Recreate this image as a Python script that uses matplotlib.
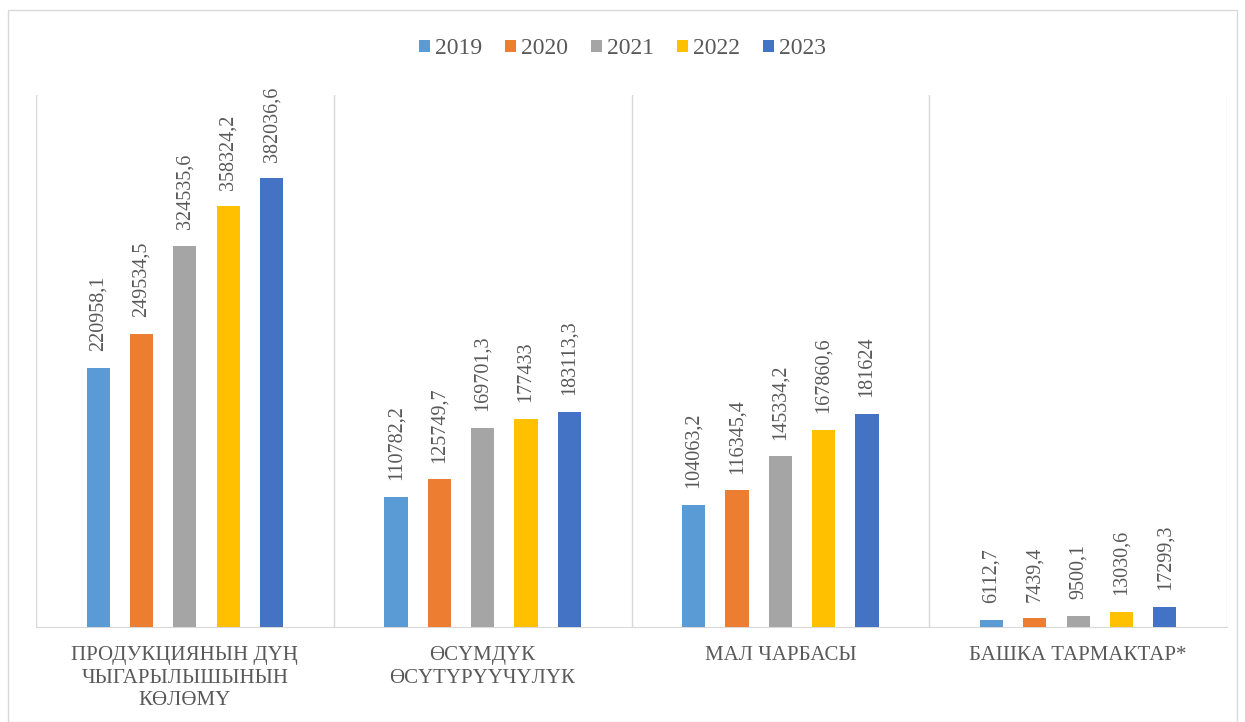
import numpy as np
import matplotlib.pyplot as plt
from matplotlib.patches import Rectangle

categories = [
    "ПРОДУКЦИЯНЫН ДҮҢ\nЧЫГАРЫЛЫШЫНЫН\nКӨЛӨМҮ",
    "ӨСҮМДҮК\nӨСҮТҮРҮҮЧҮЛҮК",
    "МАЛ ЧАРБАСЫ",
    "БАШКА ТАРМАКТАР*",
]
years = ["2019", "2020", "2021", "2022", "2023"]
v2019 = [220958.1, 110782.2, 104063.2, 6112.7]
v2020 = [249534.5, 125749.7, 116345.4, 7439.4]
v2021 = [324535.6, 169701.3, 145334.2, 9500.1]
v2022 = [358324.2, 177433, 167860.6, 13030.6]
v2023 = [382036.6, 183113.3, 181624, 17299.3]
series = [v2019, v2020, v2021, v2022, v2023]
colors = ["#5b9bd5", "#ed7d31", "#a5a5a5", "#ffc000", "#4472c4"]

plt.rcParams["font.family"] = ["Liberation Serif", "DejaVu Serif"]
text_col = "#595959"
grid_col = "#d9d9d9"


def fmt(v):
    s = f"{v:.1f}".rstrip("0").rstrip(".")
    return s.replace(".", ",")


fig = plt.figure(figsize=(12.45, 7.22), dpi=100)
fig.patches.append(Rectangle((8 / 1245, 0), 1229 / 1245, 712 / 722,
                             transform=fig.transFigure, fill=False,
                             edgecolor=grid_col, linewidth=1))
ax = fig.add_axes([36 / 1245, 95 / 722, 1191 / 1245, 532 / 722])

x = np.arange(len(categories))
step = 0.1456
width = 0.078
for i, (vals, col, yr) in enumerate(zip(series, colors, years)):
    pos = x + (i - 2) * step
    ax.bar(pos, vals, width=width, color=col, label=yr, zorder=3)
    for p, v in zip(pos, vals):
        ax.annotate(fmt(v), (p, v), xytext=(0, 12), textcoords="offset points",
                    rotation=90, ha="center", va="bottom",
                    fontsize=14.5, color=text_col)

ax.set_xlim(-0.5, len(categories) - 0.5)
ax.set_ylim(0, 453000)
ax.set_yticks([])
ax.set_xticks(x)
ax.set_xticklabels(categories, fontsize=15, color=text_col, linespacing=1.25,
                   multialignment="center")
ax.tick_params(axis="x", length=0, pad=14)
for b in np.arange(-0.5, len(categories), 1.0):
    ax.axvline(b, color=grid_col, linewidth=1, zorder=1)
for side in ["top", "left", "right"]:
    ax.spines[side].set_visible(False)
ax.spines["bottom"].set_color(grid_col)

leg = fig.legend(loc="center", bbox_to_anchor=(0.5, 1 - 49 / 722), ncol=5,
                 frameon=False, fontsize=17, handlelength=0.45, handleheight=0.45,
                 handletextpad=0.2, columnspacing=1.0)
for t in leg.get_texts():
    t.set_color(text_col)

fig.savefig("out.png", dpi=100)
